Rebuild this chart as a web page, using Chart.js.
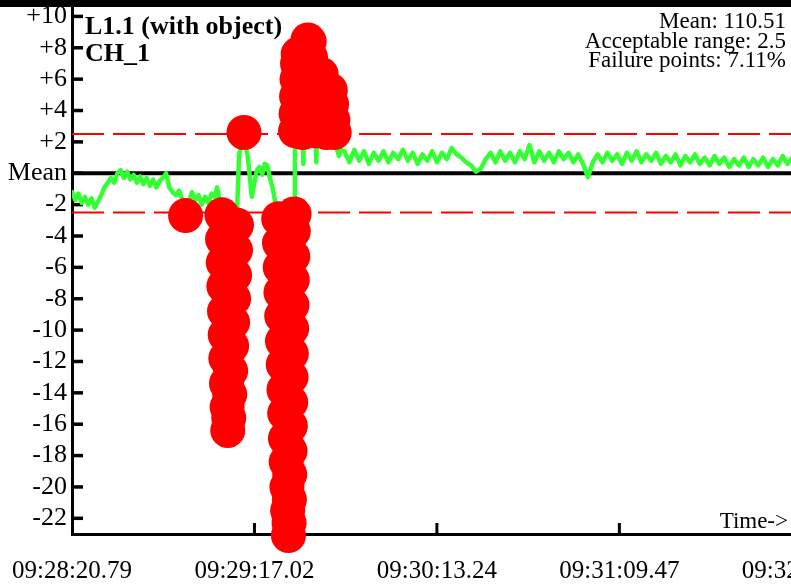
<!DOCTYPE html>
<html>
<head>
<meta charset="utf-8">
<script src="https://cdn.jsdelivr.net/npm/chart.js@4/dist/chart.umd.min.js"></script>
<style>
    html, body { margin: 0; padding: 0; background: #fff; overflow: hidden; width: 791px; height: 586px; }
    #wrap { width: 880px; height: 586px; }
</style>
</head>
<body>
<div id="wrap"><canvas id="myChart" width="880" height="586"></canvas></div>
<script>
// seconds since 09:28:20.79
const sampleTimes = [
    0, 1, 2, 3, 4, 5, 6, 7, 8, 9,
    10, 11, 12, 13, 14, 15, 16, 17, 18, 19,
    20, 21, 22, 23, 24, 25, 26, 27, 28, 29,
    30, 31, 32, 33, 34, 35, 36, 37, 38, 39,
    40, 41, 42, 43,
    44, 44.7, 45.4,
    46.2, 46.4, 46.6, 46.8, 47.0, 47.2, 47.4, 47.6, 47.8, 48.0,
    48.3, 48.6, 48.9, 49.2, 49.5, 49.8, 50.1, 50.4, 50.7,
    51.5, 53.0, 54.2, 55.4, 56.2, 57.0, 57.8, 58.6, 59.4, 60.2, 61.0, 61.8, 62.6, 63.1,
    63.7, 63.93, 64.16, 64.39, 64.62, 64.85, 65.08, 65.31, 65.54, 65.77, 66.0, 66.23, 66.46, 66.7,
    66.9, 67.0, 67.1, 67.2, 67.3, 67.4, 67.5, 67.6, 67.7, 67.8, 67.9, 68.05, 68.2,
    68.45, 68.7, 68.9, 69.05, 69.2, 69.35, 69.5, 69.7,
    70.1, 70.5, 70.8, 71.1, 71.3, 71.5, 71.8, 72.1, 72.4, 72.7, 73.1, 73.5, 73.9, 74.3, 74.7, 75.0,
    75.3, 75.6, 76.0, 76.4, 76.8, 77.2, 77.6, 78.0, 78.4, 78.8, 79.2, 79.6, 80.0, 80.4, 80.8,
    81.5, 82.3, 83.0,
    84, 85.5, 87, 88.5, 90, 91.5, 93, 94.5, 96, 97.5,
    99, 100.5, 102, 103.5, 105, 106.5, 108, 109.5, 111, 112.5,
    114, 115.5, 117, 118.5, 120, 121.5, 123, 124.5, 126, 127.5,
    129, 130.5, 132, 133.5, 135, 136.5, 138, 139.5, 141, 142.5,
    144, 145.5, 147, 148.5, 150, 151.5, 153, 154.5, 156, 157.5,
    159, 160.5, 162, 163.5, 165, 166.5, 168, 169.5, 171, 172.5,
    174, 175.5, 177, 178.5, 180, 181.5, 183, 184.5, 186, 187.5,
    189, 190.5, 192, 193.5, 195, 196.5, 198, 199.5, 201, 202.5,
    204, 205.5, 207, 208.5, 210, 211.5, 213, 214.5, 216, 217.5,
    219, 220.5, 222, 223.5, 225
]

// deviation from the mean (110.51)
const deviation = [
    -1.2, -1.7, -1.3, -1.9, -1.5, -2.0, -1.6, -2.2, -1.8, -1.4,
    -0.9, -0.6, -0.3, -0.6, 0.0, 0.2, -0.3, 0.1, -0.4, -0.1,
    -0.6, -0.2, -0.7, -0.3, -0.8, -0.4, -0.9, -0.5, -0.3, 0.0,
    -0.9, -1.2, -1.4, -1.1, -1.7, -2.7, -1.8, -1.2, -1.7, -1.4,
    -2.0, -1.5, -1.9, -1.3,
    -1.5, -0.9, -1.6,
    -2.65, -4.2, -5.7, -7.2, -8.8, -10.3, -11.8, -13.4, -14.9, -16.4,
    -15.6, -14.1, -12.6, -11.0, -9.5, -8.0, -6.5, -4.9, -3.3,
    1.2, 2.6, 1.0, -1.5, -0.6, 0.2, 0.4, -0.1, 0.6, 0.5, -0.3, -0.9, -1.8, -2.3,
    -2.9, -4.45, -6.0, -7.6, -9.1, -10.7, -12.2, -13.8, -15.3, -16.9, -18.4, -20.0, -21.5, -23.1,
    -22.3, -20.8, -19.2, -17.7, -16.1, -14.6, -13.0, -11.5, -9.9, -8.4, -6.8, -5.3, -3.7,
    -2.6, 1.0, 2.7, 3.8, 4.9, 6.0, 7.0, 7.6,
    6.4, 5.0, 3.6, 2.6, 0.6, 2.8, 4.4, 6.0, 7.4, 8.5, 8.4, 7.4, 6.2, 5.0, 3.8, 2.7,
    0.7, 2.9, 4.2, 5.4, 6.3, 5.6, 4.5, 3.4, 2.6, 3.8, 4.8, 5.3, 4.4, 3.4, 2.6,
    1.6, 1.1, 1.5,
    1.4, 0.7, 1.5, 0.8, 1.4, 0.6, 1.3, 0.8, 1.4, 0.7,
    1.3, 0.9, 1.5, 0.8, 1.3, 0.6, 1.2, 0.8, 1.4, 0.7,
    1.3, 0.9, 1.6, 1.2, 1.0, 0.7, 0.5, 0.1, 0.3, 0.9,
    1.3, 0.7, 1.4, 0.8, 1.3, 0.7, 1.4, 0.9, 1.8, 0.7,
    1.4, 0.8, 1.3, 0.7, 1.4, 0.9, 1.3, 0.7, 1.2, 0.6,
    -0.25, 0.7, 1.2, 0.7, 1.3, 0.8, 1.2, 0.6, 1.3, 0.8,
    1.4, 0.7, 1.2, 0.8, 1.3, 0.6, 1.1, 0.7, 1.2, 0.5,
    1.1, 0.7, 1.2, 0.6, 1.0, 0.5, 1.1, 0.6, 1.0, 0.4,
    0.9, 0.5, 1.0, 0.4, 0.9, 0.5, 1.0, 0.4, 0.9, 0.5,
    1.1, 0.6, 1.0, 0.7, 0.9
]

const xTickLabels = ['09:28:20.79', '09:29:17.02', '09:30:13.24', '09:31:09.47', '09:32:05.70']
const xTickStep = 56.2257
const xMax = 249
const acceptableRange = 2.5
const infoLines = ['Mean: 110.51', 'Acceptable range: 2.5', 'Failure points: 7.11%']
const titleLines = ['L1.1 (with object)', 'CH_1']

const SERIF = '"Liberation Serif", "Times New Roman", serif'
Chart.defaults.font.family = SERIF
Chart.defaults.color = '#000'

const points = sampleTimes.map((t, i) => ({x: t, y: deviation[i]}))
const failures = points.filter((p) => Math.abs(p.y) > acceptableRange)

const decorations = {
    id: 'decorations',
    beforeDatasetsDraw(chart) {
        const {ctx, chartArea, scales: {x, y}} = chart
        ctx.save()
        ctx.strokeStyle = '#000'
        ctx.lineWidth = 3.5
        y.ticks.forEach((tick) => {
            const py = y.getPixelForValue(tick.value)
            ctx.beginPath()
            ctx.moveTo(chartArea.left, py)
            ctx.lineTo(chartArea.left + 11, py)
            ctx.stroke()
        })
        ctx.lineWidth = 3
        x.ticks.forEach((tick, i) => {
            if (i === 0) return
            const px = x.getPixelForValue(tick.value)
            ctx.beginPath()
            ctx.moveTo(px, chartArea.bottom)
            ctx.lineTo(px, chartArea.bottom - 11)
            ctx.stroke()
        })
        ctx.restore()
    },
    afterDraw(chart) {
        const {ctx, chartArea} = chart
        ctx.save()
        ctx.fillStyle = '#000'
        ctx.fillRect(0, 0, chart.width, chartArea.top)

        ctx.font = 'bold 26px ' + SERIF
        ctx.textAlign = 'left'
        ctx.textBaseline = 'alphabetic'
        ctx.fillText(titleLines[0], chartArea.left + 13, 34)
        ctx.fillText(titleLines[1], chartArea.left + 13, 61)

        ctx.font = '23px ' + SERIF
        ctx.textAlign = 'right'
        infoLines.forEach((line, i) => ctx.fillText(line, 786, 28 + i * 19.5))

        ctx.fillText('Time->', 788, 528)
        ctx.restore()
    }
}

const data = {
    datasets: [
        {
            label: 'failures',
            data: failures,
            showLine: false,
            pointRadius: 17.5,
            pointBackgroundColor: '#ff0000',
            pointBorderWidth: 0,
            clip: false,
            order: 0
        },
        {
            label: 'CH_1',
            data: points,
            borderColor: '#33ff33',
            borderWidth: 4.5,
            borderJoinStyle: 'round',
            borderCapStyle: 'round',
            pointRadius: 0,
            tension: 0,
            order: 1
        },
        {
            label: 'mean',
            data: [{x: 0, y: 0}, {x: xMax, y: 0}],
            borderColor: '#000',
            borderWidth: 4,
            pointRadius: 0,
            order: 2
        },
        {
            label: 'upper',
            data: [{x: 0, y: acceptableRange}, {x: xMax, y: acceptableRange}],
            borderColor: '#ff0000',
            borderWidth: 2,
            borderDash: [32, 9],
            pointRadius: 0,
            order: 3
        },
        {
            label: 'lower',
            data: [{x: 0, y: -acceptableRange}, {x: xMax, y: -acceptableRange}],
            borderColor: '#ff0000',
            borderWidth: 2,
            borderDash: [32, 9],
            pointRadius: 0,
            order: 3
        }
    ]
}

const options = {
    responsive: false,
    animation: false,
    events: [],
    layout: {
        autoPadding: false,
        padding: {top: 7, left: 0, right: 0, bottom: 0}
    },
    scales: {
        x: {
            type: 'linear',
            min: 0,
            max: xMax,
            afterFit: (scale) => {
                scale.height = 52
                scale.paddingLeft = 0
                scale.paddingRight = 0
            },
            grid: {display: false, drawTicks: false},
            border: {display: true, color: '#000', width: 3},
            ticks: {
                stepSize: xTickStep,
                autoSkip: false,
                includeBounds: false,
                maxRotation: 0,
                padding: 22,
                color: '#000',
                font: {size: 25},
                callback: (value, index) => xTickLabels[index]
            }
        },
        y: {
            type: 'linear',
            min: -23.0,
            max: 10.6,
            afterFit: (scale) => {
                scale.width = 72
                scale.paddingTop = 0
                scale.paddingBottom = 0
            },
            grid: {display: false, drawTicks: false},
            border: {display: true, color: '#000', width: 3},
            ticks: {
                stepSize: 2,
                autoSkip: false,
                includeBounds: false,
                padding: 5,
                color: '#000',
                font: {size: 26},
                callback: (value) => value === 0 ? 'Mean' : (value > 0 ? '+' + value : String(value))
            }
        }
    },
    plugins: {
        legend: {display: false},
        tooltip: {enabled: false}
    }
}

new Chart(document.getElementById('myChart'), {
    type: 'line',
    data: data,
    options: options,
    plugins: [decorations]
})
</script>
</body>
</html>
